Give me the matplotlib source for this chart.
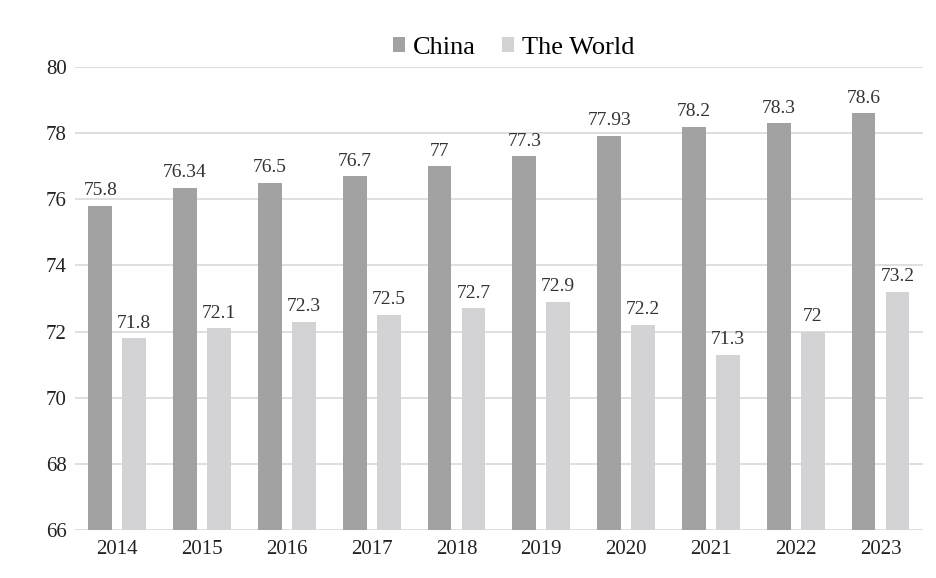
import matplotlib.pyplot as plt
import numpy as np

years = ['2014', '2015', '2016', '2017', '2018', '2019', '2020', '2021', '2022', '2023']
china = [75.8, 76.34, 76.5, 76.7, 77, 77.3, 77.93, 78.2, 78.3, 78.6]
world = [71.8, 72.1, 72.3, 72.5, 72.7, 72.9, 72.2, 71.3, 72, 73.2]
china_labels = ['75.8', '76.34', '76.5', '76.7', '77', '77.3', '77.93', '78.2', '78.3', '78.6']
world_labels = ['71.8', '72.1', '72.3', '72.5', '72.7', '72.9', '72.2', '71.3', '72', '73.2']

plt.rcParams['font.family'] = ['Liberation Serif', 'DejaVu Serif']

fig = plt.figure(figsize=(9.36, 5.78), dpi=100)
ax = fig.add_axes([0.080, 0.083, 0.906, 0.801])

x = np.arange(len(years))
w = 0.28
off = 0.2
base = 66
b1 = ax.bar(x - off, np.array(china) - base, w, bottom=base, color='#a2a2a2', label='China', zorder=2)
b2 = ax.bar(x + off, np.array(world) - base, w, bottom=base, color='#d3d3d6', label='The World', zorder=2)

for xi, v, s in zip(x, china, china_labels):
    ax.text(xi - off, v + 0.2, s, ha='center', va='bottom', fontsize=14, color='#333333')
for xi, v, s in zip(x, world, world_labels):
    ax.text(xi + off, v + 0.2, s, ha='center', va='bottom', fontsize=14, color='#333333')

ax.set_xlim(-0.5, len(years) - 0.5)
ax.set_ylim(66, 80)
ax.set_yticks(range(66, 81, 2))
ax.set_xticks(x)
ax.set_xticklabels(years)
ax.tick_params(length=0, labelsize=15, colors='#222222')
ax.tick_params(axis='x', pad=7)
ax.tick_params(axis='y', pad=6)
ax.yaxis.grid(True, color='#d9d9d9', linewidth=1.2, zorder=0)
ax.set_axisbelow(True)
for s in ax.spines.values():
    s.set_visible(False)

fig.legend(handles=[b1, b2], loc='center', bbox_to_anchor=(0.549, 0.917), ncol=2,
           frameon=False, fontsize=19, handlelength=0.45, handleheight=0.45,
           handletextpad=0.3, columnspacing=1.0)

fig.savefig('out.png', dpi=100)
